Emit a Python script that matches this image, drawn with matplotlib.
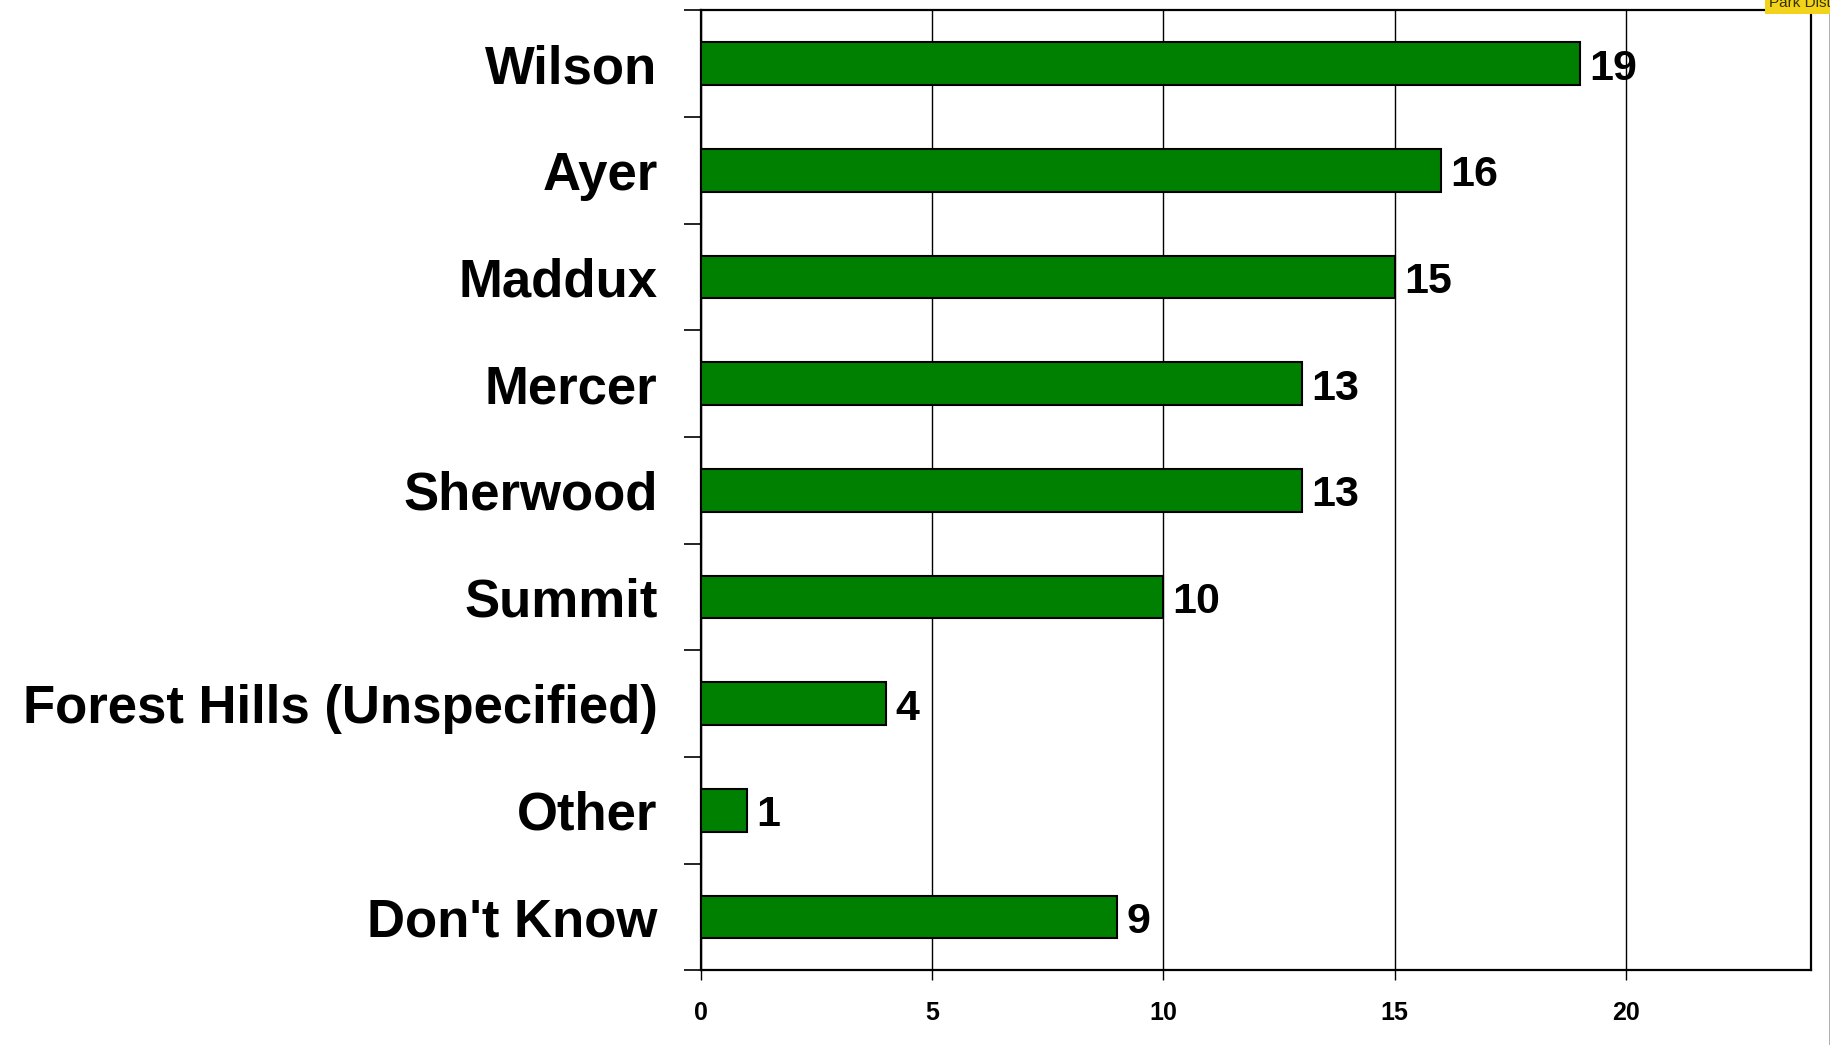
import matplotlib.pyplot as plt
import numpy as np
from matplotlib.lines import Line2D

categorias = ['Wilson', 'Ayer', 'Maddux', 'Mercer', 'Sherwood', 'Summit',
              'Forest Hills (Unspecified)', 'Other', "Don't Know"]
valores = [19, 16, 15, 13, 13, 10, 4, 1, 9]
ticks_x = [0, 5, 10, 15, 20]

plt.rcParams['font.family'] = ['Liberation Sans', 'DejaVu Sans']

fig = plt.figure(figsize=(18.31, 10.45), dpi=100)
ax = fig.add_axes([0.3826, 0.0713, 0.6065, 0.9187])

y = np.arange(len(categorias))
ax.barh(y, valores, height=0.40, color='#008000', edgecolor='black',
        linewidth=1.5, zorder=3)

for yi, v in zip(y, valores):
    ax.text(v + 0.2, yi + 0.045, str(v), va='center', ha='left', fontsize=31,
            fontweight='bold', color='black', zorder=4)

ax.set_xlim(0, 24)
ax.set_ylim(len(categorias) - 0.5, -0.5)

# ticks en los limites de cada categoria, etiquetas centradas
ax.set_yticks(np.arange(-0.5, len(categorias), 1.0))
ax.set_yticklabels([])
ax.set_yticks(y, minor=True)
ax.set_yticklabels(categorias, minor=True, fontsize=38, fontweight='bold')
ax.tick_params(axis='y', which='major', length=12, width=1.2, direction='out')
ax.tick_params(axis='y', which='minor', length=0, pad=31)

ax.set_xticks(ticks_x)
ax.set_xticklabels([str(t) for t in ticks_x], fontsize=18, fontweight='bold',
                   family=['Liberation Sans Narrow', 'Liberation Sans'])
ax.tick_params(axis='x', length=7, width=1.0, pad=15)

ax.grid(axis='x', color='black', linewidth=1.0, zorder=0)
for lado in ['left', 'bottom', 'top', 'right']:
    ax.spines[lado].set_linewidth(1.6)
    ax.spines[lado].set_color('black')

# borde gris a la derecha y etiqueta amarilla cortada
fig.add_artist(Line2D([0.9995, 0.9995], [0, 1], color='#a0a0a0',
                      linewidth=1.2, transform=fig.transFigure))
fig.text(0.966, 0.9935, 'Park District', fontsize=11, color='#333300',
         ha='left', va='baseline',
         bbox=dict(facecolor='#f2d21b', edgecolor='none', pad=3))

fig.savefig('out.png', dpi=100)
